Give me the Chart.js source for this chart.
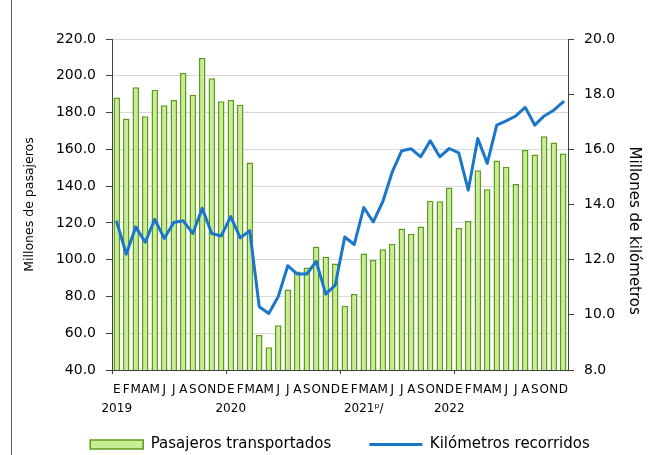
<!DOCTYPE html>
<html><head><meta charset="utf-8">
<script src="https://cdn.jsdelivr.net/npm/chart.js@4.4.1/dist/chart.umd.min.js"></script>
<style>
html,body{margin:0;padding:0;overflow:hidden;background:#fff;width:653px;height:455px}
#wrap{position:absolute;left:0;top:0;width:680px;height:462px}
#frame{position:absolute;left:11px;top:0;width:1px;height:455px;background:#595959}
</style></head><body>
<div id="frame"></div>
<div id="wrap"><canvas id="c" width="680" height="462"></canvas></div>
<script>
// Categories: months 2019-2022
const monthLabels = ['E','F','M','A','M','J','J','A','S','O','N','D',
                     'E','F','M','A','M','J','J','A','S','O','N','D',
                     'E','F','M','A','M','J','J','A','S','O','N','D',
                     'E','F','M','A','M','J','J','A','S','O','N','D'];
// Year tick labels (second row)
const yearLabels = ['2019','','','','','','','','','','','',
                    '2020','','','','','','','','','','','',
                    '','','2021ᵖ/','','','','','','','','','2022',
                    '','','','','','','','','','','',''];
// Series: Pasajeros transportados (millones)
const pasajeros = [188.2,176.8,193.7,178.0,192.4,184.0,186.8,201.5,189.7,209.6,198.6,186.2,
                   186.8,184.3,152.8,59.1,52.4,64.4,83.8,93.5,95.7,107.2,101.6,97.9,
                   74.9,81.3,103.4,99.8,105.6,108.7,117.0,114.1,118.1,132.1,131.7,139.3,
                   117.2,121.0,148.6,138.3,153.9,150.5,141.2,159.7,157.2,167.1,163.7,157.7];
// Series: Kilómetros recorridos (millones)
const kilometros = [13.37,12.20,13.19,12.63,13.46,12.77,13.35,13.41,12.95,13.86,12.95,12.86,
                    13.56,12.79,13.05,10.29,10.05,10.66,11.78,11.48,11.48,11.94,10.75,11.08,
                    12.82,12.55,13.89,13.37,14.10,15.18,15.95,16.02,15.73,16.31,15.73,16.03,
                    15.87,14.52,16.39,15.49,16.88,17.03,17.21,17.52,16.88,17.21,17.42,17.72];

Chart.defaults.font.family = "'DejaVu Sans', sans-serif";
Chart.defaults.color = '#000';
const AX = '#404040';

new Chart(document.getElementById('c'), {
  type: 'bar',
  data: {
    labels: monthLabels,
    datasets: [
      {
        label: 'Pasajeros transportados',
        data: pasajeros,
        yAxisID: 'y',
        backgroundColor: '#c8ee94',
        borderColor: '#5e9a1c',
        borderWidth: 1.5,
        categoryPercentage: 1,
        barPercentage: 0.68,
        pointStyle: 'rect',
        order: 1
      },
      {
        type: 'line',
        label: 'Kilómetros recorridos',
        data: kilometros,
        yAxisID: 'y1',
        borderColor: '#1a76c8',
        backgroundColor: '#1a76c8',
        borderWidth: 3,
        pointRadius: 0,
        pointHoverRadius: 0,
        tension: 0,
        fill: false,
        borderJoinStyle: 'round',
        borderCapStyle: 'round',
        pointStyle: 'line',
        order: 0
      }
    ]
  },
  options: {
    responsive: false,
    animation: false,
    layout: { padding: { top: 39, left: 0, right: 0, bottom: 0 } },
    plugins: {
      tooltip: { enabled: false },
      legend: {
        position: 'bottom',
        align: 'center',
        labels: {
          usePointStyle: true,
          pointStyleWidth: 53,
          boxHeight: 9,
          padding: 19,
          color: '#000',
          font: { size: 15 },
          sort: (a, b) => a.datasetIndex - b.datasetIndex,
          generateLabels: (chart) => {
            const items = Chart.defaults.plugins.legend.labels.generateLabels(chart);
            items.forEach((it) => { if (it.datasetIndex === 0) it.text = it.text + '    '; });
            return items;
          }
        }
      }
    },
    scales: {
      x: {
        type: 'category',
        position: 'bottom',
        offset: true,
        grid: {
          offset: true,
          drawOnChartArea: false,
          drawTicks: true,
          tickLength: 4,
          color: (ctx) => (ctx.index % 12 === 0 ? AX : 'rgba(0,0,0,0)'),
          lineWidth: 1
        },
        border: { display: true, color: AX, width: 1 },
        ticks: {
          autoSkip: false, maxRotation: 0, minRotation: 0,
          padding: 6.5,
          font: { size: 12, lineHeight: 1.583 },
          color: '#000',
          callback: (v, i) => [monthLabels[i], yearLabels[i]]
        },
        afterFit: (s) => { s.height = 48; }
      },
      y: {
        type: 'linear',
        position: 'left',
        min: 40, max: 220,
        ticks: {
          stepSize: 20,
          padding: 10,
          font: { size: 14 },
          color: '#000',
          callback: (v) => Number(v).toFixed(1)
        },
        grid: { color: '#d9d9d9', lineWidth: 1, tickColor: AX, tickLength: 6 },
        border: { display: true, color: AX, width: 1 },
        title: {
          display: true,
          text: 'Millones de pasajeros',
          font: { size: 12.5 },
          color: '#000',
          padding: { top: 22.5, bottom: 0 }
        },
        afterFit: (s) => { s.width = 112; }
      },
      y1: {
        type: 'linear',
        position: 'right',
        min: 8, max: 20,
        ticks: {
          stepSize: 2,
          padding: 10,
          font: { size: 14 },
          color: '#000',
          callback: (v) => Number(v).toFixed(1)
        },
        grid: { drawOnChartArea: false, tickColor: AX, tickLength: 6 },
        border: { display: true, color: AX, width: 1 },
        title: {
          display: true,
          text: '           Millones de kilómetros',
          font: { size: 15 },
          color: '#000',
          padding: { top: 37, bottom: 0 }
        },
        afterFit: (s) => { s.width = 112; }
      }
    }
  }
});
</script>
</body></html>
